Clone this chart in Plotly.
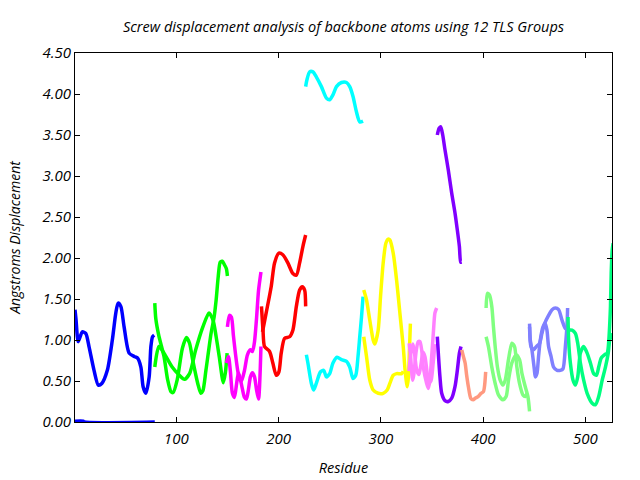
import plotly.graph_objects as go

# ---- data: residue numbers and screw displacement (Angstroms) per TLS group ----
g1a_res = [1, 2, 4.2, 8.1, 11.5, 14.7, 19.6, 23.8, 27.2, 32.6, 37.5, 40.9, 43.1, 45.8, 49, 53.9, 58.8, 62.1, 65.4, 67.6, 70.3, 73.5, 75.2, 76.8, 78.4]
g1a_val = [1.37, 1.25, 0.98, 1.10, 1.08, 0.92, 0.63, 0.45, 0.47, 0.63, 1.0, 1.33, 1.45, 1.41, 1.16, 0.84, 0.80, 0.78, 0.67, 0.43, 0.35, 0.55, 0.92, 1.04, 1.06]
g1b_res = [1, 9, 10, 79]
g1b_val = [0.01, 0.01, 0.0, 0.0]

g2a_res = [79, 80, 83, 88, 91.5, 94.8, 97, 101, 106, 110, 113, 116, 121, 124, 126, 129, 134, 137, 139, 141, 143, 145, 147, 149, 150]
g2a_val = [1.45, 1.26, 1.05, 0.80, 0.52, 0.37, 0.36, 0.52, 0.90, 1.03, 0.96, 0.76, 0.47, 0.35, 0.38, 0.63, 1.08, 1.28, 1.49, 1.77, 1.95, 1.96, 1.92, 1.87, 1.78]
g2b_res = [79, 83, 88, 96, 103, 108, 113, 119, 126, 132, 136, 139, 142, 146, 148, 149.7]
g2b_val = [0.67, 0.92, 0.84, 0.67, 0.57, 0.52, 0.59, 0.88, 1.16, 1.33, 1.24, 1.04, 0.80, 0.48, 0.60, 0.84]

g3a_res = [150, 152, 153.9, 155.9, 157.8, 159.8, 161.8, 163.7, 166.7, 169.6, 172.5, 174.5, 176.5, 178.4, 180.4, 182.8]
g3a_val = [1.16, 1.30, 1.28, 1.05, 0.84, 0.65, 0.52, 0.50, 0.63, 0.82, 0.88, 0.86, 0.98, 1.25, 1.60, 1.83]
g3b_res = [149, 151, 152.9, 154.9, 156.9, 158.8, 160.8, 162.7, 164.7, 166.7, 168.6, 170.6, 172.5, 174.5, 176.5, 178.4, 180.4, 182.8]
g3b_val = [0.72, 0.80, 0.62, 0.35, 0.30, 0.45, 0.60, 0.52, 0.40, 0.30, 0.28, 0.40, 0.55, 0.60, 0.55, 0.40, 0.28, 0.92]

g4a_res = [184.3, 187.9, 192.8, 196.1, 200.3, 204.2, 209.1, 214, 217.4, 220.6, 223.8, 226.5]
g4a_val = [1.10, 1.33, 1.65, 1.94, 2.06, 2.04, 1.94, 1.81, 1.79, 1.94, 2.14, 2.28]
g4b_res = [183.3, 184.8, 186.3, 191.2, 194.4, 197.7, 200.3, 202.6, 205.9, 210.8, 214, 217.4, 220.6, 223.2, 225.5, 226.5]
g4b_val = [1.41, 1.12, 0.92, 0.86, 0.72, 0.57, 0.61, 0.84, 1.02, 1.04, 1.12, 1.41, 1.61, 1.65, 1.61, 1.41]

g5a_res = [226.5, 227.7, 230.4, 233.6, 236.9, 241.9, 246.8, 250, 253.2, 256.6, 261.5, 266.4, 269.6, 272.8, 276.2, 279.4, 282.6]
g5a_val = [4.09, 4.17, 4.27, 4.27, 4.21, 4.09, 3.95, 3.93, 3.99, 4.09, 4.14, 4.14, 4.09, 3.97, 3.78, 3.66, 3.67]
g5b_res = [227.2, 228.7, 232.1, 234.3, 236.9, 240.9, 244.1, 246.8, 250, 253.2, 257.2, 261.5, 266.4, 269.6, 272.8, 275.5, 277.7, 279.4, 281.1, 282.6]
g5b_val = [0.82, 0.72, 0.47, 0.39, 0.47, 0.61, 0.63, 0.55, 0.59, 0.72, 0.79, 0.76, 0.74, 0.67, 0.53, 0.57, 0.80, 1.04, 1.28, 1.53]

g6a_res = [283.3, 286, 289.2, 292.5, 294.1, 297.4, 299.7, 302.3, 304.9, 307.2, 308.8, 312.1, 315.4, 318.6, 321.9, 323.8, 325.8, 327, 327.9, 328.9]
g6a_val = [1.61, 1.49, 1.24, 1.0, 0.95, 1.12, 1.53, 1.94, 2.18, 2.23, 2.22, 2.06, 1.73, 1.33, 0.92, 0.62, 0.43, 0.55, 0.85, 1.20]
g6b_res = [283.3, 286, 289.2, 292.5, 297.4, 302.3, 306.2, 308.8, 312.1, 315.4, 320.3, 321.9]
g6b_val = [1.04, 0.80, 0.51, 0.39, 0.35, 0.35, 0.39, 0.47, 0.57, 0.59, 0.59, 0.62]

g7a_res = [327.7, 329.1, 331.1, 332.4, 334.3, 336.6, 338.2, 339.9, 341.5, 344.8, 346.4, 348, 349.7, 351.3, 352.9, 354.6]
g7a_val = [0.96, 0.80, 0.51, 0.59, 0.84, 0.98, 0.98, 0.88, 0.67, 0.47, 0.41, 0.51, 0.80, 1.08, 1.33, 1.39]
g7b_res = [327.5, 329.4, 331.4, 333.3, 335.3, 337.3, 339.2, 341.2, 343.1, 345.1, 347.1, 349, 351, 352.9]
g7b_val = [0.62, 0.85, 0.95, 0.80, 0.62, 0.58, 0.70, 0.85, 0.80, 0.62, 0.48, 0.50, 0.70, 0.95]

g8a_res = [355.2, 356.9, 358.5, 360.5, 362.7, 366, 369.3, 372.5, 374.8, 376.8, 378.1, 379.1]
g8a_val = [3.50, 3.58, 3.60, 3.50, 3.32, 3.07, 2.79, 2.55, 2.34, 2.14, 1.95, 1.95]
g8b_res = [355.2, 356.2, 357.8, 359.5, 362.7, 366, 369.3, 372.5, 374.8, 376.8, 378.4]
g8b_val = [1.04, 0.84, 0.55, 0.35, 0.26, 0.25, 0.29, 0.43, 0.63, 0.84, 0.92]

g9_res = [379.1, 380.7, 382.4, 383.8, 385.6, 387.9, 390.2, 392.2, 395.1, 398, 400.3, 401.5, 402.5]
g9_val = [0.88, 0.80, 0.72, 0.58, 0.43, 0.29, 0.27, 0.29, 0.31, 0.35, 0.37, 0.45, 0.61]

g10a_res = [402.9, 404.2, 406.2, 408.5, 410.1, 411.8, 414, 416.7, 419.3, 421.6, 424.8, 428.1, 430.7, 433, 435.6, 438.9, 441.2, 443.1]
g10a_val = [1.39, 1.57, 1.55, 1.41, 1.16, 0.92, 0.67, 0.51, 0.45, 0.51, 0.76, 0.96, 0.92, 0.67, 0.47, 0.33, 0.31, 0.35]
g10b_res = [402.9, 405.2, 408.5, 411.8, 415, 419.3, 422.5, 424.8, 428.1, 432.4, 435.6, 438, 441.2, 443.8, 445.4]
g10b_val = [1.04, 0.92, 0.67, 0.47, 0.33, 0.27, 0.31, 0.51, 0.72, 0.82, 0.76, 0.59, 0.43, 0.31, 0.13]

g11a_res = [445.4, 446.1, 447.7, 450, 451, 452.6, 454.2, 455.9, 458.5, 460.8, 462.4, 464, 466.4, 468.9, 472.3, 475.5, 478.1, 480.4, 482.1, 482.6]
g11a_val = [1.20, 1.0, 0.88, 0.65, 0.55, 0.59, 0.80, 1.0, 1.16, 1.20, 1.12, 0.92, 0.80, 0.67, 0.63, 0.63, 0.65, 0.92, 1.20, 1.39]
g11b_res = [445.4, 446.8, 449.3, 452, 455.2, 457.5, 460.1, 464, 467.4, 470.6, 473.8, 477.2, 480.4, 482.1]
g11b_val = [1.16, 0.92, 0.88, 0.92, 0.96, 1.08, 1.20, 1.30, 1.37, 1.39, 1.37, 1.24, 1.14, 1.14]

g12a_res = [483, 483.6, 485.3, 487.9, 490.2, 492.5, 495.1, 498.3, 501.7, 504.9, 508.1, 510.8, 513, 515.4, 518.6, 521.3, 522.9, 523.8, 524.5, 525.2, 526.2, 527.1]
g12a_val = [1.28, 1.0, 0.72, 0.51, 0.45, 0.55, 0.84, 0.92, 0.84, 0.72, 0.59, 0.57, 0.67, 0.78, 0.82, 0.84, 1.0, 1.20, 1.41, 1.81, 2.10, 2.18]
g12b_res = [483, 486.9, 490.2, 492.5, 495.1, 498.3, 501.7, 506.6, 509.8, 513, 516.4, 519.6, 522.3, 523.8, 526.5]
g12b_val = [1.12, 1.12, 1.08, 0.96, 0.72, 0.51, 0.35, 0.23, 0.21, 0.31, 0.51, 0.67, 0.84, 1.0, 1.08]

group_colors = ["#0000ff", "#00ff00", "#ff00ff", "#ff0000", "#00ffff", "#ffff00",
                "#ff80ff", "#8000ff", "#ff9980", "#80ff80", "#8080ff", "#00ff80"]

y_ticks = [0.0, 0.5, 1.0, 1.5, 2.0, 2.5, 3.0, 3.5, 4.0, 4.5]
x_ticks = [100, 200, 300, 400, 500]

series = [
    (g1a_res, g1a_val, 0), (g1b_res, g1b_val, 0),
    (g2a_res, g2a_val, 1), (g2b_res, g2b_val, 1),
    (g3a_res, g3a_val, 2), (g3b_res, g3b_val, 2),
    (g4a_res, g4a_val, 3), (g4b_res, g4b_val, 3),
    (g5a_res, g5a_val, 4), (g5b_res, g5b_val, 4),
    (g6a_res, g6a_val, 5), (g6b_res, g6b_val, 5),
    (g7a_res, g7a_val, 6), (g7b_res, g7b_val, 6),
    (g8a_res, g8a_val, 7), (g8b_res, g8b_val, 7),
    (g9_res, g9_val, 8),
    (g10a_res, g10a_val, 9), (g10b_res, g10b_val, 9),
    (g11a_res, g11a_val, 10), (g11b_res, g11b_val, 10),
    (g12a_res, g12a_val, 11), (g12b_res, g12b_val, 11),
]

fig = go.Figure()
for xs, ys, ci in series:
    fig.add_trace(go.Scatter(
        x=xs, y=ys, mode="lines",
        line=dict(color=group_colors[ci], width=3.5, shape="spline", smoothing=0.7),
        showlegend=False, hoverinfo="skip",
    ))

font_family = "Open Sans, DejaVu Sans, sans-serif"
fig.update_layout(
    width=640, height=480,
    margin=dict(l=75, r=28, t=53, b=58, autoexpand=False),
    paper_bgcolor="white", plot_bgcolor="white",
    font=dict(family=font_family, size=12, color="black", style="italic"),
    title=dict(text="Screw displacement analysis of backbone atoms using 12 TLS Groups",
               x=0.5, xref="paper", y=1 - 27 / 480, yanchor="middle", xanchor="center",
               font=dict(family=font_family, size=14.5, color="black", style="italic")),
    showlegend=False,
)
fig.update_xaxes(
    range=[1, 526], tickvals=x_ticks, ticks="inside", ticklen=5, tickcolor="black",
    showline=True, linecolor="black", linewidth=1, mirror="ticks",
    showgrid=False, zeroline=False, ticklabelstandoff=3, automargin=False,
    title=dict(text="Residue", font=dict(size=14.5, style="italic"), standoff=15),
    tickfont=dict(size=15, style="italic"),
)
fig.update_yaxes(
    range=[0, 4.5], tickvals=y_ticks, tickformat=".2f", ticks="inside", ticklen=5,
    tickcolor="black", showline=True, linecolor="black", linewidth=1, mirror="ticks",
    showgrid=False, zeroline=False, automargin=False,
    title=dict(text="Angstroms Displacement", font=dict(size=14, style="italic"), standoff=18),
    tickfont=dict(size=15, style="italic"),
)

fig.write_html("out.html")
